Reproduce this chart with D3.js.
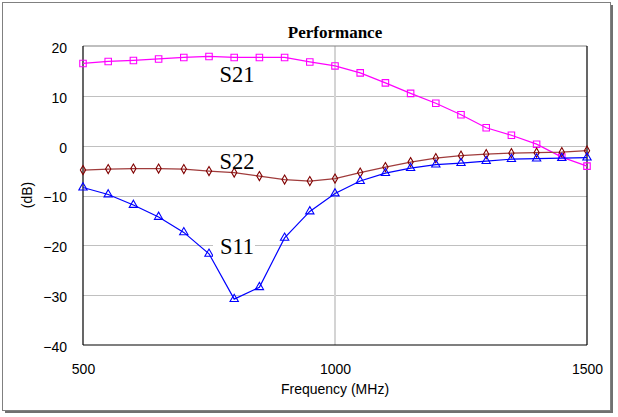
<!DOCTYPE html>
<html>
<head>
<meta charset="utf-8">
<script src="https://cdn.jsdelivr.net/npm/d3@7"></script>
<style>
  html, body { margin: 0; padding: 0; background: #fff; }
  svg { display: block; }
</style>
</head>
<body>
<svg id="chart" width="618" height="417"></svg>
<script>
// ---- data ----
const frequencies = [500, 550, 600, 650, 700, 750, 800, 850, 900, 950, 1000,
                     1050, 1100, 1150, 1200, 1250, 1300, 1350, 1400, 1450, 1500];
const s21 = [16.5, 16.9, 17.1, 17.4, 17.7, 17.9, 17.7, 17.7, 17.7, 16.8, 16.0,
             14.6, 12.6, 10.5, 8.5, 6.2, 3.6, 2.1, 0.3, -2.3, -4.1];
const s22 = [-4.9, -4.7, -4.6, -4.6, -4.7, -5.1, -5.4, -6.1, -6.8, -7.1, -6.6,
             -5.4, -4.3, -3.3, -2.5, -2.0, -1.7, -1.5, -1.4, -1.3, -1.0];
const s11 = [-8.4, -9.8, -11.9, -14.3, -17.4, -21.7, -30.8, -28.4, -18.5, -13.2, -9.6,
             -7.1, -5.5, -4.5, -3.8, -3.5, -3.1, -2.7, -2.6, -2.5, -2.4];
const xTicks = [500, 1000, 1500];
const yTicks = [20, 10, 0, -10, -20, -30, -40];
const seriesNames = ["S21", "S22", "S11"];

const svg = d3.select("#chart");

// chart frame with shadow
svg.append("rect").attr("x", 5).attr("y", 5).attr("width", 608).attr("height", 408).attr("fill", "#707070");
svg.append("rect").attr("x", 2.5).attr("y", 2.5).attr("width", 608).attr("height", 408)
  .attr("fill", "#fff").attr("stroke", "#808080").attr("stroke-width", 1);

const x = d3.scaleLinear().domain([500, 1500]).range([83, 587]);
const y = d3.scaleLinear().domain([-40, 20]).range([345, 46]);

// gridlines
const g = svg.append("g");
g.selectAll(".hg").data(yTicks.filter(t => t !== 20 && t !== -40)).enter().append("line")
  .attr("x1", x(500)).attr("x2", x(1500))
  .attr("y1", d => Math.round(y(d)) + 0.5).attr("y2", d => Math.round(y(d)) + 0.5)
  .attr("stroke", "#c0c0c0").attr("stroke-width", 1);
g.selectAll(".vg").data(xTicks.filter(t => t !== 500 && t !== 1500)).enter().append("line")
  .attr("x1", d => x(d)).attr("x2", d => x(d))
  .attr("y1", y(20)).attr("y2", y(-40))
  .attr("stroke", "#d4d4d4").attr("stroke-width", 2);

// plot border
svg.append("line").attr("x1", x(500)).attr("x2", x(1500)).attr("y1", y(20)).attr("y2", y(20))
  .attr("stroke", "#808080").attr("stroke-width", 1.2);
svg.append("line").attr("x1", x(500)).attr("x2", x(500)).attr("y1", y(20)).attr("y2", y(-40))
  .attr("stroke", "#000").attr("stroke-width", 1.2);
svg.append("line").attr("x1", x(1500)).attr("x2", x(1500)).attr("y1", y(20)).attr("y2", y(-40))
  .attr("stroke", "#000").attr("stroke-width", 1.2);
svg.append("line").attr("x1", x(500)).attr("x2", x(1500)).attr("y1", y(-40)).attr("y2", y(-40))
  .attr("stroke", "#000").attr("stroke-width", 1.2);

// axes (labels only)
const yAxis = d3.axisLeft(y).tickValues(yTicks).tickSize(0).tickPadding(0).tickFormat(d3.format("d"));
const ya = svg.append("g").attr("transform", "translate(67,2)").call(yAxis);
ya.select(".domain").remove();
ya.selectAll("text").attr("font-family", "Liberation Sans, Arial, sans-serif").attr("font-size", 14).attr("fill", "#000");

const xAxis = d3.axisBottom(x).tickValues(xTicks).tickSize(0).tickPadding(0).tickFormat(d3.format("d"));
const xa = svg.append("g").attr("transform", "translate(0,364)").call(xAxis);
xa.select(".domain").remove();
xa.selectAll("text").attr("font-family", "Liberation Sans, Arial, sans-serif").attr("font-size", 14).attr("fill", "#000");

// titles
svg.append("text").attr("x", 335).attr("y", 38).attr("text-anchor", "middle")
  .attr("font-family", "Liberation Serif, Times New Roman, serif").attr("font-weight", "bold")
  .attr("font-size", 17).text("Performance");
svg.append("text").attr("x", 335).attr("y", 394).attr("text-anchor", "middle")
  .attr("font-family", "Liberation Sans, Arial, sans-serif").attr("font-size", 14).text("Frequency (MHz)");
svg.append("text").attr("transform", "translate(32,195) rotate(-90)").attr("text-anchor", "middle")
  .attr("font-family", "Liberation Sans, Arial, sans-serif").attr("font-size", 14).text("(dB)");

// series
const series = [
  { name: seriesNames[0], values: s21, line: "#ff00ff", marker: "#ff00ff", shape: d3.symbolSquare, size: 42 },
  { name: seriesNames[1], values: s22, line: "#a03c3c", marker: "#800000", shape: d3.symbolDiamond, size: 24 },
  { name: seriesNames[2], values: s11, line: "#0000ff", marker: "#0000ff", shape: d3.symbolTriangle, size: 30 }
];
const line = d3.line().x((d, i) => x(frequencies[i])).y(d => y(d));

series.forEach(s => {
  svg.append("path").datum(s.values).attr("d", line)
    .attr("fill", "none").attr("stroke", s.line).attr("stroke-width", 1.2);
  svg.append("g").selectAll("path").data(s.values).enter().append("path")
    .attr("transform", (d, i) => `translate(${x(frequencies[i])},${y(d)})`)
    .attr("d", d3.symbol().type(s.shape).size(s.size))
    .attr("fill", "none").attr("stroke", s.marker).attr("stroke-width", 1.1);
});

// series labels
const labelPos = { S21: [237, 82], S22: [237, 169], S11: [237, 254] };
svg.append("rect").attr("x", 213).attr("y", 236).attr("width", 42).attr("height", 21).attr("fill", "#fff");
seriesNames.forEach(n => {
  svg.append("text").attr("x", labelPos[n][0]).attr("y", labelPos[n][1]).attr("text-anchor", "middle")
    .attr("font-family", "Liberation Serif, Times New Roman, serif").attr("font-size", 22.5).text(n);
});
</script>
</body>
</html>
